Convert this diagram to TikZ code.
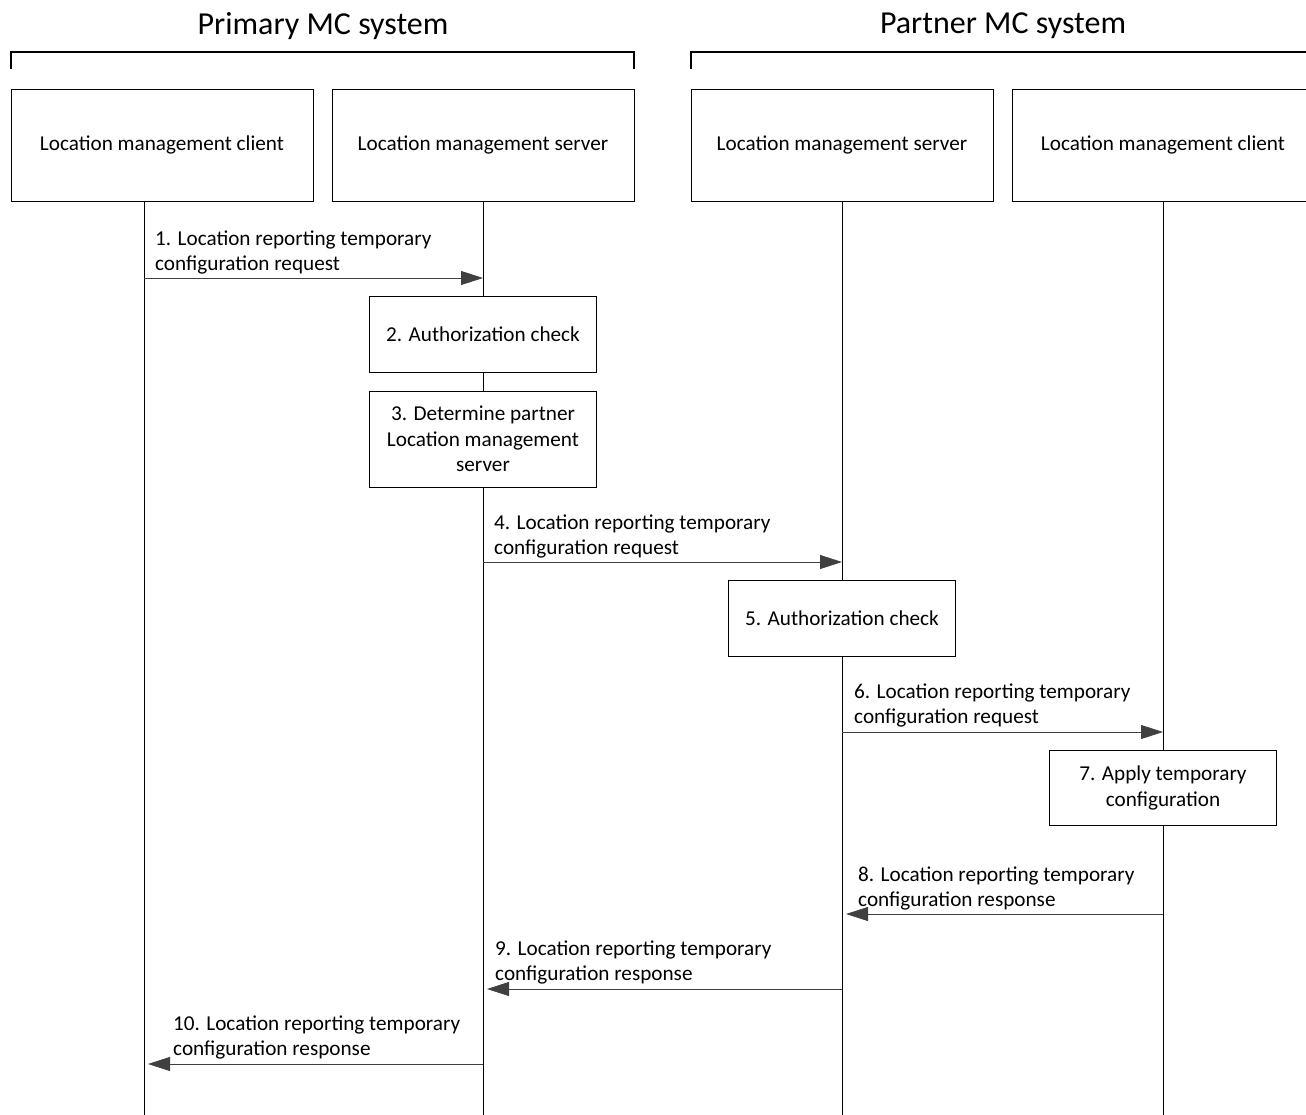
\documentclass[tikz,border=0pt]{standalone}
\usepackage{fontspec}
\setmainfont{Carlito}
\usetikzlibrary{arrows.meta, positioning}

\begin{document}
\begin{tikzpicture}[
    x=1pt, y=-1pt,
    node distance=19pt,
    entity/.style={rectangle, draw=black, line width=0.9pt, outer sep=0pt,
                   minimum height=112pt, minimum width=302pt,
                   align=center, font=\fontsize{21.2}{25}\selectfont},
    action/.style={rectangle, draw=black, line width=0.9pt, fill=white,
                   minimum width=227pt, align=center,
                   font=\fontsize{21.2}{25.5}\selectfont},
    title/.style={font=\fontsize{32}{34}\selectfont},
    msglabel/.style={anchor=south west, align=left, inner sep=0pt,
                     font=\fontsize{21.2}{25}\selectfont},
    life/.style={draw=black, line width=0.8pt},
    msg/.style={draw=black!70, line width=0.8pt,
                -{Triangle[length=22pt, width=14pt]}, black!75},
    back/.style={msg, shorten >=4pt},
    bracket/.style={draw=black, line width=2pt},
]
\clip (0,0) rectangle (1306,1115);

% systems
\node[title] (primary) at (323,26) {Primary MC system};
\node[title] (partner) at (1003,26) {Partner MC system};
\draw[bracket] (11,69) -- (11,52) -- (634,52) -- (634,69);
\draw[bracket] (691,69) -- (691,52) -- (1310,52);

% entities
\node[entity] (lmcA) at (162,145) {Location management client};
\node[entity, right=19pt of lmcA] (lmsA) {Location management server};
\node[entity, right=57pt of lmsA] (lmsB) {Location management server};
\node[entity, right=19pt of lmsB] (lmcB) {Location management client};

% lifelines
\coordinate (lifeA) at ([xshift=-18pt]lmcA.south);
\draw[life] (lifeA) -- (lifeA |- 0,1115);
\foreach \n in {lmsA, lmsB, lmcB}
    \draw[life] (\n.south) -- (\n |- 0,1115);

% actions
\node[action, minimum height=76pt] (authA) at (lmsA |- 0,334) {2. Authorization check};
\node[action, minimum height=96pt] (detB)  at (lmsA |- 0,439)
    {3. Determine partner\\Location management\\server};
\node[action, minimum height=76pt] (authB) at (lmsB |- 0,618) {5. Authorization check};
\node[action, minimum height=75pt] (apply) at (lmcB |- 0,788)
    {7. Apply temporary\\configuration};

% messages
\draw[msg] (lifeA |- 0,278) -- (lmsA |- 0,278);
\node[msglabel] (m1) at (155,274) {1. Location reporting temporary\\configuration request};

\draw[msg] (lmsA |- 0,562) -- (lmsB |- 0,562);
\node[msglabel] (m4) at (494,558) {4. Location reporting temporary\\configuration request};

\draw[msg] (lmsB |- 0,732) -- (lmcB |- 0,732);
\node[msglabel] (m6) at (854,727) {6. Location reporting temporary\\configuration request};

\draw[back] (lmcB |- 0,914) -- (lmsB |- 0,914);
\node[msglabel] (m8) at (858,910) {8. Location reporting temporary\\configuration response};

\draw[back] (lmsB |- 0,989) -- (lmsA |- 0,989);
\node[msglabel] (m9) at (495,984) {9. Location reporting temporary\\configuration response};

\draw[back] (lmsA |- 0,1064) -- (lifeA |- 0,1064);
\node[msglabel] (m10) at (173,1059) {10. Location reporting temporary\\configuration response};
\end{tikzpicture}
\end{document}
